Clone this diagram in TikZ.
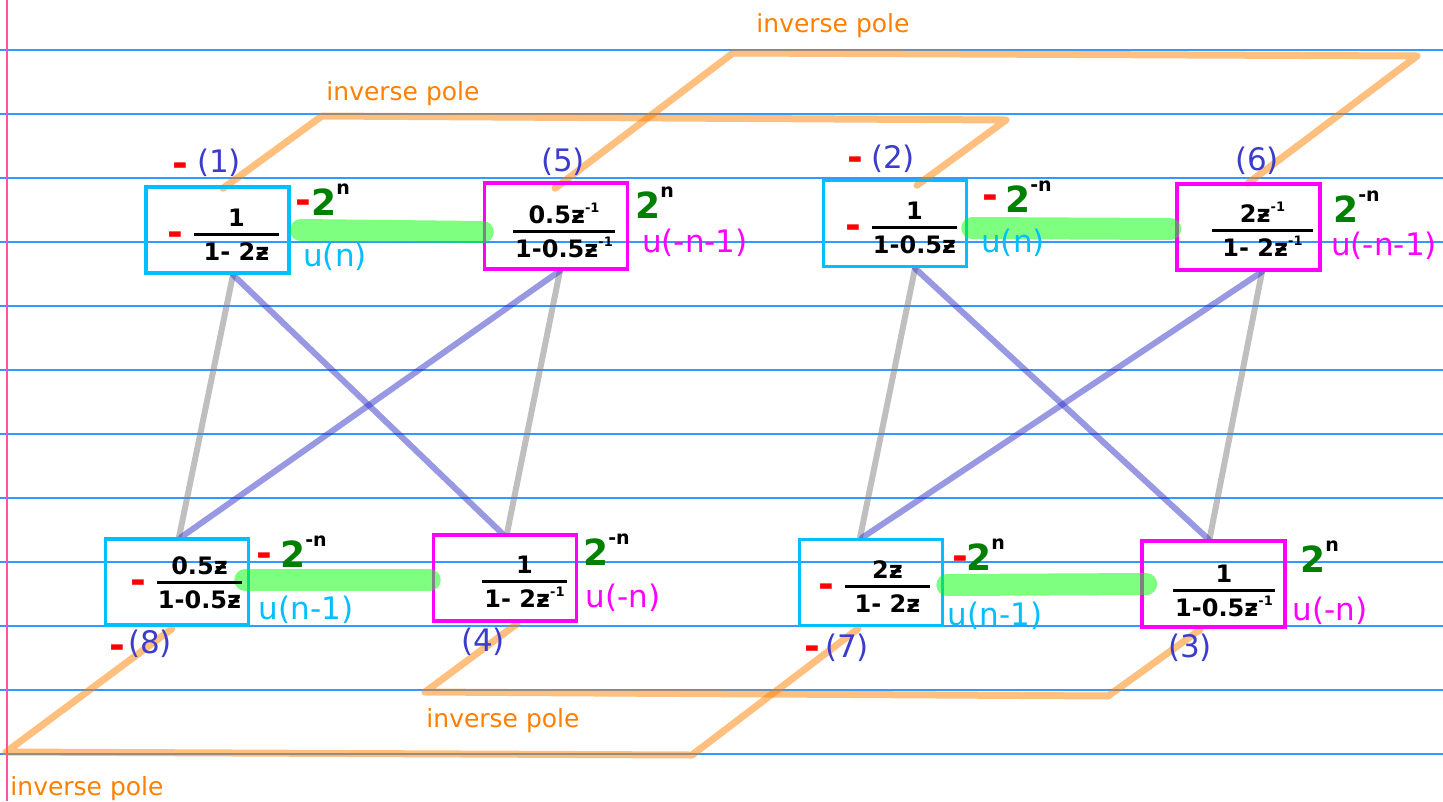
\documentclass[tikz,border=0pt]{standalone}
\usepackage{fontspec}
\newfontfamily\dv{DejaVu Sans}
\definecolor{cyb}{RGB}{0,191,255}
\definecolor{mgb}{RGB}{255,0,255}
\definecolor{idb}{RGB}{59,59,204}
\definecolor{grn}{RGB}{0,128,0}
\definecolor{org}{RGB}{255,128,0}
\definecolor{rul}{RGB}{51,153,255}
\definecolor{pnk}{RGB}{255,80,170}
\definecolor{gry}{RGB}{128,128,128}
\definecolor{pur}{RGB}{50,50,200}
\newcommand\labf{\dv\fontsize{31}{36}\selectfont}
\newcommand\ipf{\dv\fontsize{25}{30}\selectfont}
\newcommand\frf{\dv\bfseries\fontsize{24}{28}\selectfont}
\newcommand\twof{\dv\bfseries\fontsize{36}{40}\selectfont}
\newcommand\supf{\dv\bfseries\fontsize{19}{21}\selectfont}
\newcommand\mnf{\dv\bfseries\fontsize{38}{40}\selectfont}
\newcommand\inv{\raisebox{0.45em}{\dv\bfseries\fontsize{13}{14}\selectfont -1}}
\newcommand\tw[1]{{\color{grn}2}\raisebox{21pt}{\supf #1}}
\newcommand\fracat[6]{%
  \coordinate (#1) at (#2,#3);
  \draw[fbar] ([xshift=-#4pt]#1) -- ([xshift=#4pt]#1);
  \node[fnum] (#1n) at ([yshift=8pt]#1) {#5};
  \node[fnum] (#1d) at ([yshift=-26pt]#1) {#6};
}
\tikzset{
  boxc/.style={draw=cyb, line width=3.5pt, minimum width=143pt, minimum height=86pt, inner sep=0pt},
  boxm/.style={boxc, draw=mgb},
  idl/.style={font=\labf, text=idb, inner sep=0pt},
  ucl/.style={font=\labf, text=cyb, inner sep=0pt},
  uml/.style={font=\labf, text=mgb, inner sep=0pt},
  mn/.style={font=\mnf, text=red, inner sep=0pt, anchor=base},
  twol/.style={font=\twof, inner sep=0pt, anchor=base west},
  ipl/.style={font=\ipf, text=org, inner sep=0pt, anchor=base},
  fbar/.style={line width=3pt},
  fnum/.style={font=\frf, inner sep=0pt, anchor=base},
  orl/.style={draw=org, opacity=0.5, line width=7pt, line cap=round, line join=round},
  gyl/.style={draw=gry, opacity=0.5, line width=6pt, line cap=round},
  bll/.style={draw=pur, opacity=0.5, line width=6pt, line cap=round},
  gnl/.style={draw=green, opacity=0.5, line width=22pt, line cap=round},
  rulel/.style={draw=rul, line width=1.3pt},
  marg/.style={draw=pnk, line width=1.2pt}
}
\begin{document}
\begin{tikzpicture}[x=1pt,y=-1pt]
\useasboundingbox (0,0) rectangle (1443,801);
% ruled paper
\foreach \k in {0,...,11}{
  \coordinate (rl\k) at (0,50+64*\k);
  \coordinate (rr\k) at (1443,50+64*\k);
  \draw[rulel] (rl\k) -- (rr\k);
}
\coordinate (mt) at (7,0);
\coordinate (mb) at (7,801);
\draw[marg] (mt) -- (mb);

% boxes
\node[boxc] (b1) at (217.5,230) {};
\node[boxm] (b5) at (556,226) {};
\node[boxc] (b2) at (895,223.5) {};
\node[boxm] (b6) at (1248.5,227) {};
\node[boxc] (b8) at (177,582) {};
\node[boxm] (b4) at (505,578) {};
\node[boxc] (b7) at (871,582.5) {};
\node[boxm] (b3) at (1213.5,584) {};

% orange inverse-pole paths
\coordinate (p1a) at (322,116);
\coordinate (p1b) at (1006,120);
\draw[orl] ([xshift=5.5pt,yshift=-3pt]b1.north) -- (p1a) -- (p1b) -- ([xshift=22pt,yshift=-6.5pt]b2.north);
\coordinate (p2a) at (733,53);
\coordinate (p2b) at (1417,56);
\draw[orl] ([xshift=-1pt,yshift=-7pt]b5.north) -- (p2a) -- (p2b) -- ([xshift=-0.5pt,yshift=-1pt]b6.north);
\coordinate (p3a) at (6,752);
\coordinate (p3b) at (692,755);
\draw[orl] ([xshift=-5pt,yshift=-2pt]b8.south) -- (p3a) -- (p3b) -- ([xshift=-13pt,yshift=-1.5pt]b7.south);
\coordinate (p4a) at (425,692);
\coordinate (p4b) at (1108,696);
\draw[orl] ([xshift=12pt,yshift=-1pt]b4.south) -- (p4a) -- (p4b) -- ([xshift=-13.5pt,yshift=-1pt]b3.south);

% gray and blue cross connectors
\draw[gyl] ([xshift=15.5pt]b1.south) -- ([xshift=2pt]b8.north);
\draw[gyl] ([xshift=4pt]b5.south) -- ([xshift=2pt]b4.north);
\draw[gyl] ([xshift=20pt]b2.south) -- ([xshift=-11pt]b7.north);
\draw[gyl] ([xshift=13.5pt]b6.south) -- ([xshift=-4pt]b3.north);
\draw[bll] ([xshift=15.5pt]b1.south) -- ([xshift=-3pt]b4.north);
\draw[bll] ([xshift=4pt]b5.south) -- ([xshift=4pt]b8.north);
\draw[bll] ([xshift=20pt]b2.south) -- ([xshift=-5pt]b3.north);
\draw[bll] ([xshift=13.5pt]b6.south) -- ([xshift=-9pt]b7.north);

% redraw boxes on top
\node[boxc] (b1t) at (b1) {};
\node[boxm] (b5t) at (b5) {};
\node[boxc] (b2t) at (b2) {};
\node[boxm] (b6t) at (b6) {};
\node[boxc] (b8t) at (b8) {};
\node[boxm] (b4t) at (b4) {};
\node[boxc] (b7t) at (b7) {};
\node[boxm] (b3t) at (b3) {};

% green highlights
\draw[gnl] ([xshift=10pt]b1.east) -- ([yshift=-6pt]b5.west);
\draw[gnl] ([xshift=4pt,yshift=-4.5pt]b2.east) -- ([xshift=-5pt,yshift=-2pt]b6.west);
\draw[gnl] ([xshift=-5pt,yshift=2pt]b8.east) -- ([xshift=-2pt,yshift=-2pt]b4.west);
\draw[gnl] ([xshift=3pt,yshift=-2.5pt]b7.east) -- ([xshift=6pt]b3.west);

% fractions
\fracat{f1}{236.5}{234}{42.5}{1}{1- 2ƶ}
\fracat{f5}{564}{231}{51}{0.5ƶ\inv}{1-0.5ƶ\inv}
\fracat{f2}{914.5}{227}{42.5}{1}{1-0.5ƶ}
\fracat{f6}{1262.5}{230}{50.5}{2ƶ\inv}{1- 2ƶ\inv}
\fracat{f8}{199.5}{582}{42.5}{0.5ƶ}{1-0.5ƶ}
\fracat{f4}{524.5}{581}{42.5}{1}{1- 2ƶ\inv}
\fracat{f7}{887.5}{586}{42.5}{2ƶ}{1- 2ƶ}
\fracat{f3}{1224}{590}{51}{1}{1-0.5ƶ\inv}

% inner minus signs
\node[mn] (m1i) at (175,245) {-};
\node[mn] (m2i) at (853,238) {-};
\node[mn] (m8i) at (138,593) {-};
\node[mn] (m7i) at (826,597) {-};

% index labels
\node[mn] (m1l) at (180,176) {-};
\node[idl] (l1) at (219,163) {(1)};
\node[idl] (l5) at (563,162) {(5)};
\node[mn] (m2l) at (855,170) {-};
\node[idl] (l2) at (893,159) {(2)};
\node[idl] (l6) at (1257,161) {(6)};
\node[mn] (m8l) at (117,658) {-};
\node[idl] (l8) at (150,644) {(8)};
\node[idl] (l4) at (483,642) {(4)};
\node[mn] (m7l) at (812,659) {-};
\node[idl] (l7) at (847,648) {(7)};
\node[idl] (l3) at (1190,648) {(3)};

% 2^n labels
\node[mn] (m1o) at (303,213) {-};
\node[twol] (t1) at (311,215) {\tw{n}};
\node[twol] (t5) at (635,218) {\tw{n}};
\node[mn] (m2o) at (990,208) {-};
\node[twol] (t2) at (1005,212) {\tw{-n}};
\node[twol] (t6) at (1333,222) {\tw{-n}};
\node[mn] (m8o) at (264,566) {-};
\node[twol] (t8) at (280,567) {\tw{-n}};
\node[twol] (t4) at (583,565) {\tw{-n}};
\node[mn] (m7o) at (960,569) {-};
\node[twol] (t7) at (966,570) {\tw{n}};
\node[twol] (t3) at (1300,572) {\tw{n}};

% step labels
\node[ucl] (u1) at (335,257) {u(n)};
\node[uml] (u5) at (695,243) {u(-n-1)};
\node[ucl] (u2) at (1013,243) {u(n)};
\node[uml] (u6) at (1384,246) {u(-n-1)};
\node[ucl] (u8) at (306,610) {u(n-1)};
\node[uml] (u4) at (623,598) {u(-n)};
\node[ucl] (u7) at (995,616) {u(n-1)};
\node[uml] (u3) at (1330,611) {u(-n)};

% inverse pole labels
\node[ipl] (ip1) at (833,32) {inverse pole};
\node[ipl] (ip2) at (403,100) {inverse pole};
\node[ipl] (ip3) at (503,727) {inverse pole};
\node[ipl] (ip4) at (87,795) {inverse pole};
\end{tikzpicture}
\end{document}
